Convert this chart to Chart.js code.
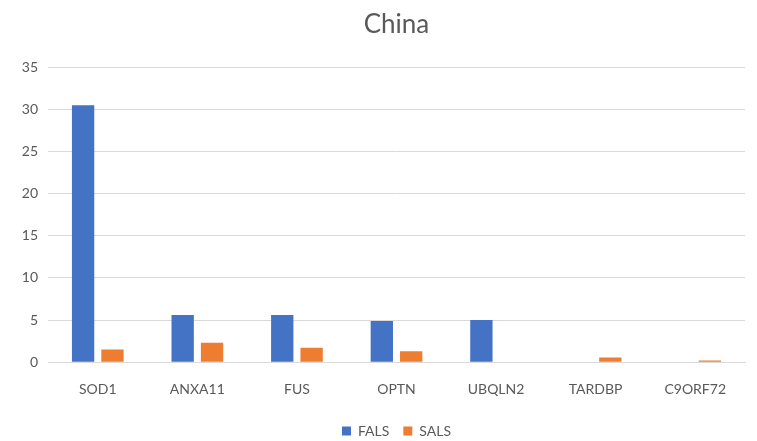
<!DOCTYPE html>
<html>
<head>
<meta charset="utf-8">
<script src="https://cdn.jsdelivr.net/npm/chart.js@4/dist/chart.umd.min.js"></script>
<style>
    html, body { margin: 0; padding: 0; background: #fff; }
    #wrap { width: 757px; height: 441px; }
</style>
</head>
<body>
<div id="wrap"><canvas id="chart" width="757" height="441"></canvas></div>
<script>
// gene categories and the two series
const genes = ['SOD1', 'ANXA11', 'FUS', 'OPTN', 'UBQLN2', 'TARDBP', 'C9ORF72'];
const falsValues = [30.5, 5.6, 5.6, 4.9, 5.0, 0, 0];
const salsValues = [1.5, 2.3, 1.7, 1.3, 0, 0.55, 0.2];
const yTicks = [0, 5, 10, 15, 20, 25, 30, 35];

const FONT = 'Lato, "Open Sans", sans-serif';
const GREY_TEXT = '#595959';
const GRID = '#d9d9d9';

// centre title and legend over the plot area, legend row pinned near the bottom edge
const LEGEND_TOP = 410;
const centreOnPlot = {
    id: 'centreOnPlot',
    afterLayout(chart) {
        const { left, right } = chart.chartArea;
        [chart.titleBlock, chart.legend].forEach(box => {
            if (!box) return;
            box.left = left;
            box.right = right;
            box.width = right - left;
        });
        const lg = chart.legend;
        if (lg) {
            lg.top = LEGEND_TOP;
            lg.bottom = LEGEND_TOP + lg.height;
        }
    },
};

new Chart(document.getElementById('chart'), {
    type: 'bar',
    data: {
        labels: genes,
        datasets: [
            { label: 'FALS', data: falsValues, backgroundColor: '#4472C4' },
            { label: 'SALS', data: salsValues, backgroundColor: '#ED7D31' },
        ],
    },
    options: {
        responsive: false,
        animation: false,
        layout: { padding: { left: 6, right: 12, top: 6, bottom: 0 } },
        datasets: { bar: { categoryPercentage: 0.59, barPercentage: 0.76 } },
        plugins: {
            title: {
                display: true,
                text: 'China',
                color: GREY_TEXT,
                font: { family: FONT, size: 26, weight: 'normal' },
                padding: { top: 3, bottom: 27 },
            },
            legend: {
                position: 'bottom',
                labels: {
                    color: GREY_TEXT,
                    font: { family: FONT, size: 14 },
                    boxWidth: 9,
                    boxHeight: 9,
                    padding: 14,
                },
            },
            tooltip: { enabled: false },
        },
        scales: {
            x: {
                grid: { display: false },
                border: { color: GRID, width: 1 },
                ticks: { color: GREY_TEXT, font: { family: FONT, size: 14 }, padding: 11 },
                afterFit: axis => { axis.height -= 6; },
            },
            y: {
                min: 0,
                max: 35,
                afterBuildTicks: axis => { axis.ticks = yTicks.map(v => ({ value: v })); },
                afterFit: axis => { axis.width = 42; },
                grid: { color: GRID, drawTicks: false },
                border: { display: false },
                ticks: { color: GREY_TEXT, font: { family: FONT, size: 14 }, padding: 10 },
            },
        },
    },
    plugins: [centreOnPlot],
});
</script>
</body>
</html>
